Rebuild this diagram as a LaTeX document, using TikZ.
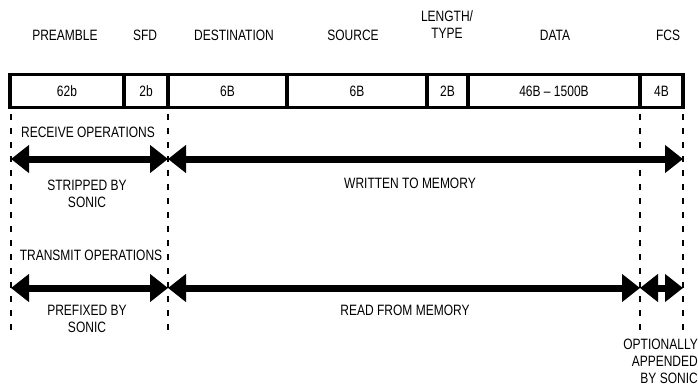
\documentclass[tikz,border=0pt]{standalone}
\usepackage{fontspec}
\setmainfont{Liberation Sans}[FakeStretch=0.8]
\usetikzlibrary{arrows.meta,positioning}

\begin{document}
\begin{tikzpicture}[x=1pt,y=-1pt,>={Triangle[length=18pt,width=27pt]},
      font=\fontsize{15}{17}\selectfont,
      field/.style={draw,line width=3.5pt,minimum height=33pt,inner sep=0pt,outer sep=0pt},
      hdr/.style={align=center,inner sep=0pt},
      note/.style={align=center,inner sep=0pt},
      guide/.style={line width=1.4pt,dash pattern=on 6pt off 8pt},
      flow/.style={<->,line width=7pt}]
      \useasboundingbox (0,0) rectangle (698,385);

      % frame fields
      \node[field,minimum width=114pt,anchor=west] (pre) at (10,91) {62b};
      \node[field,minimum width=44pt,right=0pt of pre] (sfd) {2b};
      \node[field,minimum width=119pt,right=0pt of sfd] (dst) {6B};
      \node[field,minimum width=140pt,right=0pt of dst] (src) {6B};
      \node[field,minimum width=41pt,right=0pt of src] (len) {2B};
      \node[field,minimum width=172pt,right=0pt of len] (dat) {46B -- 1500B};
      \node[field,minimum width=43pt,right=0pt of dat] (fcs) {4B};

      % headings
      \node[hdr] (preh) at (65,35) {PREAMBLE};
      \node[hdr] (sfdh) at (145,35) {SFD};
      \node[hdr] (dsth) at (234,35) {DESTINATION};
      \node[hdr] (srch) at (353,35) {SOURCE};
      \node[hdr] (lenh) at (447,24.5) {LENGTH/\\TYPE};
      \node[hdr] (dath) at (555,35) {DATA};
      \node[hdr] (fcsh) at (668,35) {FCS};

      % guide lines
      \coordinate (g1t) at (11,114);  \coordinate (g1b) at (11,330);
      \coordinate (g2t) at (168,114); \coordinate (g2b) at (168,330);
      \coordinate (g3t) at (640,114); \coordinate (g3b) at (640,330);
      \coordinate (g4t) at (683,114); \coordinate (g4b) at (683,330);
      \draw[guide] (g1t) -- (g1b);
      \draw[guide] (g2t) -- (g2b);
      \draw[guide] (g3t) -- (g3b);
      \draw[guide] (g4t) -- (g4b);

      % receive
      \coordinate (r1) at (11,159);  \coordinate (r2) at (168,159);
      \coordinate (r3) at (683,159);
      \draw[flow] (r1) -- (r2);
      \draw[flow] (r2) -- (r3);
      \node[note] (rxop) at (88,132) {RECEIVE OPERATIONS};
      \node[note] (strip) at (87,193.5) {STRIPPED BY\\SONIC};
      \node[note] (wmem) at (410,183) {WRITTEN TO MEMORY};

      % transmit
      \coordinate (t1) at (11,288);  \coordinate (t2) at (168,288);
      \coordinate (t3) at (640,288); \coordinate (t4) at (683,288);
      \draw[flow] (t1) -- (t2);
      \draw[flow] (t2) -- (t3);
      \draw[flow] (t3) -- (t4);
      \node[note] (txop) at (91,255) {TRANSMIT OPERATIONS};
      \node[note] (prefix) at (87,319) {PREFIXED BY\\SONIC};
      \node[note] (rmem) at (405,310) {READ FROM MEMORY};
      \node[note,align=right,anchor=east] (append) at (698,361) {OPTIONALLY\\APPENDED\\BY SONIC};
\end{tikzpicture}
\end{document}
